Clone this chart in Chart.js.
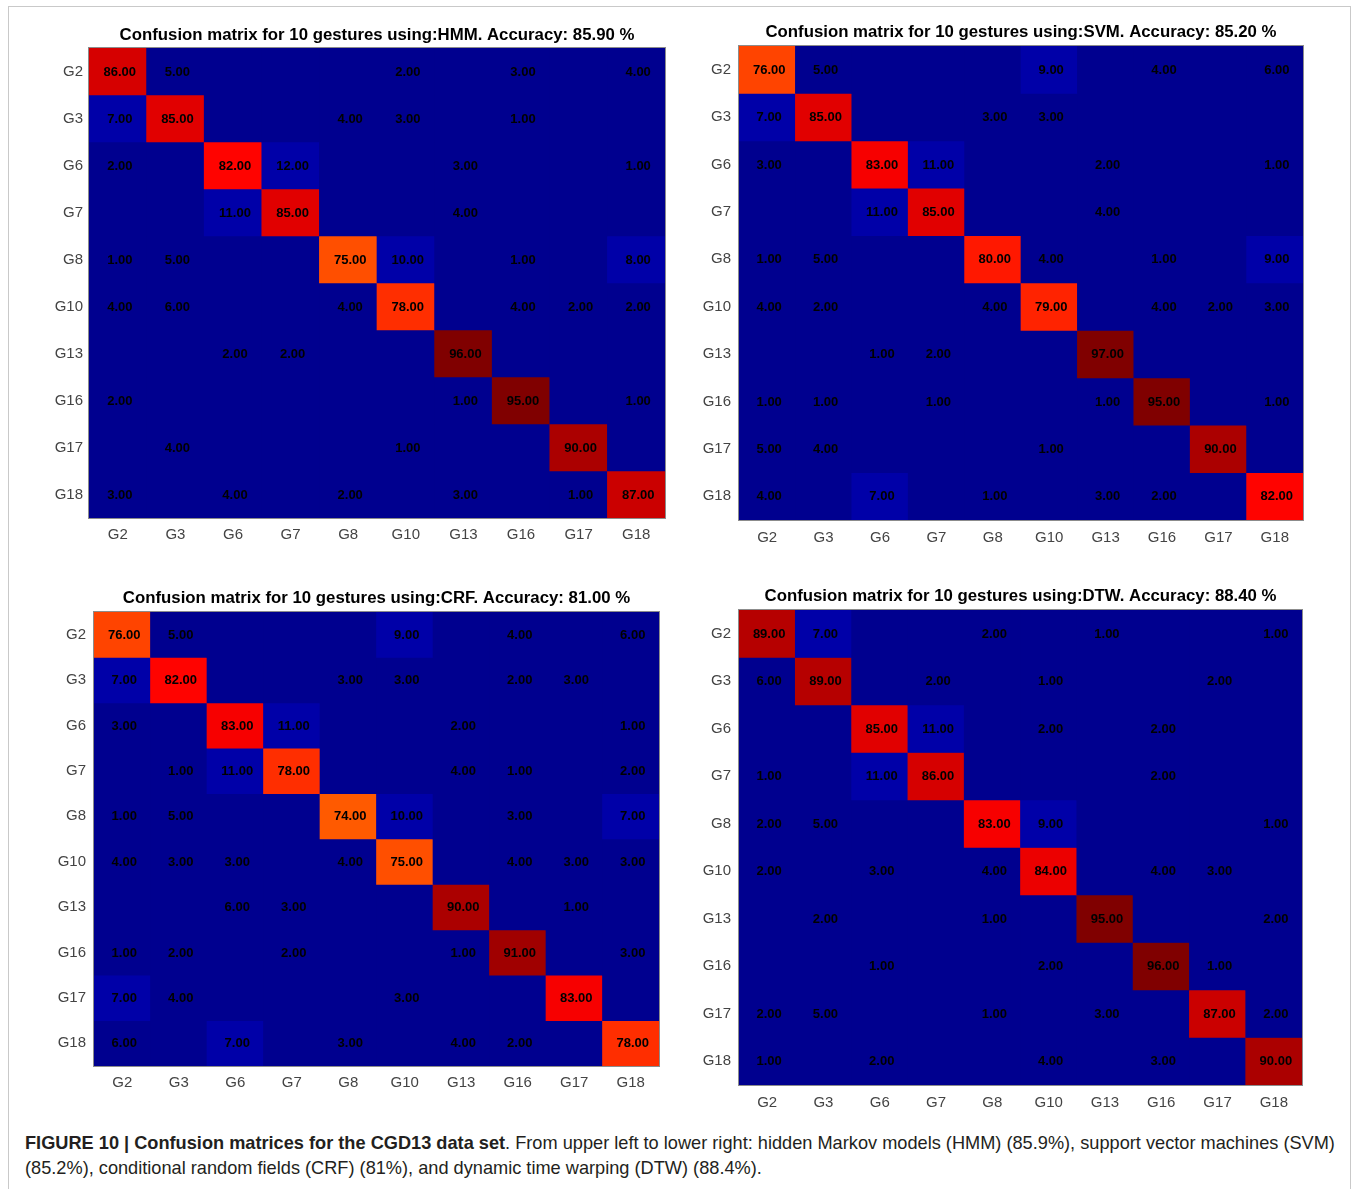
<!DOCTYPE html>
<html>
<head>
<meta charset="utf-8">
<script src="https://cdn.jsdelivr.net/npm/chart.js@4.4.1/dist/chart.umd.min.js"></script>
<style>
  html, body { margin: 0; padding: 0; background: #fff; }
  body { width: 1356px; height: 1189px; position: relative; overflow: hidden; font-family: "Liberation Sans", Arial, sans-serif; }
  .frame { position: absolute; left: 8px; top: 6px; width: 1343px; height: 1200px; border: 1px solid #c9c9c9; box-sizing: border-box; }
  .panel { position: absolute; }
  .panel canvas { display: block; }
  .caption { position: absolute; left: 25px; top: 1131px; font-size: 18.2px; line-height: 25px; color: #231f20; white-space: nowrap; }
  .caption b { font-weight: bold; }
</style>
</head>
<body>
<div class="frame"></div>
<div class="panel" id="p0"><canvas id="c0"></canvas></div>
<div class="panel" id="p1"><canvas id="c1"></canvas></div>
<div class="panel" id="p2"><canvas id="c2"></canvas></div>
<div class="panel" id="p3"><canvas id="c3"></canvas></div>
<div class="caption"><b>FIGURE 10 | Confusion matrices for the CGD13 data set</b>. From upper left to lower right: hidden Markov models (HMM) (85.9%), support vector machines (SVM)<br>(85.2%), conditional random fields (CRF) (81%), and dynamic time warping (DTW) (88.4%).</div>
<script>
// ---------------- DATA ----------------
const gestures = ['G2','G3','G6','G7','G8','G10','G13','G16','G17','G18'];

const titles = [
  'Confusion matrix for 10 gestures using:HMM. Accuracy: 85.90 %',
  'Confusion matrix for 10 gestures using:SVM. Accuracy: 85.20 %',
  'Confusion matrix for 10 gestures using:CRF. Accuracy: 81.00 %',
  'Confusion matrix for 10 gestures using:DTW. Accuracy: 88.40 %'
];

// rows = true gesture, columns = predicted gesture (same order as gestures)
const hmmMatrix = [
  [86, 5, 0, 0, 0, 2, 0, 3, 0, 4],
  [7, 85, 0, 0, 4, 3, 0, 1, 0, 0],
  [2, 0, 82, 12, 0, 0, 3, 0, 0, 1],
  [0, 0, 11, 85, 0, 0, 4, 0, 0, 0],
  [1, 5, 0, 0, 75, 10, 0, 1, 0, 8],
  [4, 6, 0, 0, 4, 78, 0, 4, 2, 2],
  [0, 0, 2, 2, 0, 0, 96, 0, 0, 0],
  [2, 0, 0, 0, 0, 0, 1, 95, 0, 1],
  [0, 4, 0, 0, 0, 1, 0, 0, 90, 0],
  [3, 0, 4, 0, 2, 0, 3, 0, 1, 87]
];

const svmMatrix = [
  [76, 5, 0, 0, 0, 9, 0, 4, 0, 6],
  [7, 85, 0, 0, 3, 3, 0, 0, 0, 0],
  [3, 0, 83, 11, 0, 0, 2, 0, 0, 1],
  [0, 0, 11, 85, 0, 0, 4, 0, 0, 0],
  [1, 5, 0, 0, 80, 4, 0, 1, 0, 9],
  [4, 2, 0, 0, 4, 79, 0, 4, 2, 3],
  [0, 0, 1, 2, 0, 0, 97, 0, 0, 0],
  [1, 1, 0, 1, 0, 0, 1, 95, 0, 1],
  [5, 4, 0, 0, 0, 1, 0, 0, 90, 0],
  [4, 0, 7, 0, 1, 0, 3, 2, 0, 82]
];

const crfMatrix = [
  [76, 5, 0, 0, 0, 9, 0, 4, 0, 6],
  [7, 82, 0, 0, 3, 3, 0, 2, 3, 0],
  [3, 0, 83, 11, 0, 0, 2, 0, 0, 1],
  [0, 1, 11, 78, 0, 0, 4, 1, 0, 2],
  [1, 5, 0, 0, 74, 10, 0, 3, 0, 7],
  [4, 3, 3, 0, 4, 75, 0, 4, 3, 3],
  [0, 0, 6, 3, 0, 0, 90, 0, 1, 0],
  [1, 2, 0, 2, 0, 0, 1, 91, 0, 3],
  [7, 4, 0, 0, 0, 3, 0, 0, 83, 0],
  [6, 0, 7, 0, 3, 0, 4, 2, 0, 78]
];

const dtwMatrix = [
  [89, 7, 0, 0, 2, 0, 1, 0, 0, 1],
  [6, 89, 0, 2, 0, 1, 0, 0, 2, 0],
  [0, 0, 85, 11, 0, 2, 0, 2, 0, 0],
  [1, 0, 11, 86, 0, 0, 0, 2, 0, 0],
  [2, 5, 0, 0, 83, 9, 0, 0, 0, 1],
  [2, 0, 3, 0, 4, 84, 0, 4, 3, 0],
  [0, 2, 0, 0, 1, 0, 95, 0, 0, 2],
  [0, 0, 1, 0, 0, 2, 0, 96, 1, 0],
  [2, 5, 0, 0, 1, 0, 3, 0, 87, 2],
  [1, 0, 2, 0, 0, 4, 0, 3, 0, 90]
];

const matrices = [hmmMatrix, svmMatrix, crfMatrix, dtwMatrix];

// ---------------- LAYOUT (page pixels) ----------------
const panels = [
  { plot: [89, 48, 665, 518],  titleY: 35,  xPad: 8, yPad: 6 },
  { plot: [739, 46, 1303, 520], titleY: 32,  xPad: 9, yPad: 8 },
  { plot: [94, 612, 659, 1066], titleY: 598, xPad: 8, yPad: 8 },
  { plot: [739, 610, 1302, 1085], titleY: 596, xPad: 9, yPad: 8 }
];

const LEFT = 60, TOP = 44, BOTTOM = 40, RIGHT = 14;
const TITLE_FONT = 16.8, TITLE_LH = 1.2;
const FONT = '"Liberation Sans", Arial, sans-serif';

function clamp01(v) { return Math.max(0, Math.min(1, v)); }
function cellColor(v) {
  if (v < 40) {
    return v < 7 ? 'rgb(0,0,143)' : 'rgb(0,0,168)';
  }
  const x = Math.min(1, v / 94);
  const r = clamp01(Math.min(4 * x - 1.5, -4 * x + 4.5));
  const g = clamp01(Math.min(4 * x - 0.5, -4 * x + 3.5));
  const b = clamp01(Math.min(4 * x + 0.5, -4 * x + 2.5));
  return 'rgb(' + Math.round(r * 255) + ',' + Math.round(g * 255) + ',' + Math.round(b * 255) + ')';
}

const backdropPlugin = {
  id: 'backdrop',
  beforeDatasetsDraw(chart) {
    const a = chart.chartArea, ctx = chart.ctx;
    ctx.save();
    ctx.fillStyle = cellColor(0);
    ctx.fillRect(a.left, a.top, a.right - a.left, a.bottom - a.top);
    ctx.restore();
  }
};

const cellTextPlugin = {
  id: 'cellText',
  afterDatasetsDraw(chart) {
    const ctx = chart.ctx;
    ctx.save();
    ctx.font = 'bold 13px ' + FONT;
    ctx.fillStyle = '#000';
    ctx.textAlign = 'center';
    ctx.textBaseline = 'middle';
    chart.data.datasets.forEach((ds, r) => {
      const meta = chart.getDatasetMeta(r);
      meta.data.forEach((el, c) => {
        const v = ds.values[c];
        if (!v) return;
        const cy = (el.y + el.base) / 2;
        ctx.fillText(v.toFixed(2), el.x + 2, cy + 0.5);
      });
    });
    const a = chart.chartArea;
    ctx.strokeStyle = '#8c8c8c';
    ctx.lineWidth = 1;
    ctx.strokeRect(a.left - 0.5, a.top - 0.5, a.right - a.left + 1, a.bottom - a.top + 1);
    ctx.restore();
  }
};

panels.forEach((p, i) => {
  const [l, t, r, b] = p.plot;
  const w = (r - l) + LEFT + RIGHT;
  const h = (b - t) + TOP + BOTTOM;
  const holder = document.getElementById('p' + i);
  holder.style.left = (l - LEFT) + 'px';
  holder.style.top = (t - TOP) + 'px';
  holder.style.width = w + 'px';
  holder.style.height = h + 'px';
  const canvas = document.getElementById('c' + i);
  canvas.width = w; canvas.height = h;
  canvas.style.width = w + 'px'; canvas.style.height = h + 'px';

  const mat = matrices[i];
  const titleH = TITLE_FONT * TITLE_LH;
  const padTop = (p.titleY - (t - TOP)) - titleH / 2;
  const padBottom = TOP - padTop - titleH;

  const datasets = mat.map((row, ri) => ({
    label: gestures[ri],
    values: row,
    data: row.map(() => [ri, ri + 1]),
    backgroundColor: row.map(v => cellColor(v)),
    borderWidth: 0,
    grouped: false,
    barPercentage: 1,
    categoryPercentage: 1
  }));

  new Chart(canvas, {
    type: 'bar',
    data: { labels: gestures, datasets },
    options: {
      responsive: false,
      animation: false,
      devicePixelRatio: 1,
      layout: { padding: { left: 0, right: RIGHT, top: 0, bottom: 0 } },
      plugins: {
        legend: { display: false },
        tooltip: { enabled: false },
        title: {
          display: true,
          text: titles[i],
          fullSize: false,
          color: '#000',
          font: { family: FONT, size: TITLE_FONT, weight: 'bold', lineHeight: TITLE_LH },
          padding: { top: padTop, bottom: padBottom }
        }
      },
      scales: {
        x: {
          type: 'category',
          offset: true,
          grid: { display: false, drawTicks: false },
          border: { display: false },
          ticks: {
            color: '#444',
            font: { family: FONT, size: 15 },
            padding: p.xPad,
            autoSkip: false,
            maxRotation: 0
          },
          afterFit(s) { s.height = BOTTOM; }
        },
        y: {
          type: 'linear',
          min: 0,
          max: gestures.length,
          reverse: true,
          grid: { display: false, drawTicks: false },
          border: { display: false },
          afterBuildTicks(s) { s.ticks = gestures.map((g, k) => ({ value: k + 0.5 })); },
          ticks: {
            color: '#444',
            font: { family: FONT, size: 15 },
            padding: p.yPad,
            autoSkip: false,
            callback: (v) => gestures[Math.floor(v)]
          },
          afterFit(s) { s.width = LEFT; }
        }
      }
    },
    plugins: [backdropPlugin, cellTextPlugin]
  });
});
</script>
</body>
</html>
